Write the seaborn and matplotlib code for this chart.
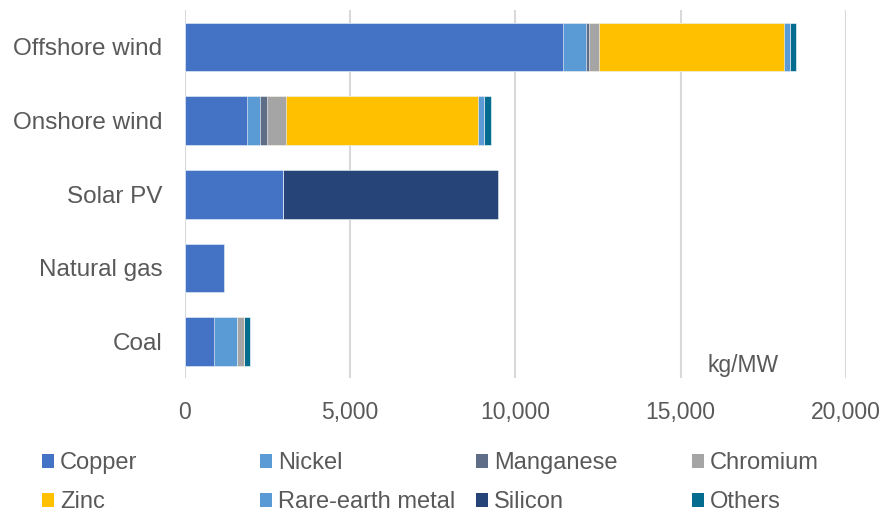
import numpy as np
import pandas as pd
import matplotlib
matplotlib.use("Agg")
import matplotlib.pyplot as plt
import seaborn as sns
from matplotlib.patches import Patch

categories = ["Offshore wind", "Onshore wind", "Solar PV", "Natural gas", "Coal"]
copper = [11440, 1890, 2980, 1180, 890]
nickel = [700, 400, 0, 0, 700]
manganese = [90, 200, 0, 0, 0]
chromium = [300, 575, 0, 0, 200]
zinc = [5590, 5800, 0, 0, 0]
rare_earth = [190, 180, 0, 0, 0]
silicon = [0, 0, 6490, 0, 0]
others = [180, 210, 0, 0, 190]

series_names = ["Copper", "Nickel", "Manganese", "Chromium", "Zinc",
                "Rare-earth metal", "Silicon", "Others"]
series_values = [copper, nickel, manganese, chromium, zinc, rare_earth, silicon, others]
colors = ["#4472C4", "#5B9BD5", "#5F6E86", "#A5A5A5", "#FFC000",
          "#5B9BD5", "#264478", "#036C8F"]
x_ticks = [0, 5000, 10000, 15000, 20000]
x_ticklabels = ["0", "5,000", "10,000", "15,000", "20,000"]

sns.set_theme(style="white")
plt.rcParams["font.family"] = ["Liberation Sans", "DejaVu Sans"]
text_color = "#595959"

fig = plt.figure(figsize=(8.82, 5.13), dpi=100)
ax = fig.add_axes([0.2092, 0.2622, 0.9592 - 0.2092, 0.9805 - 0.2622])

df = pd.DataFrame({name: vals for name, vals in zip(series_names, series_values)})
df["category"] = categories
cum = df[series_names].cumsum(axis=1)

for name, col in reversed(list(zip(series_names, colors))):
    sns.barplot(x=cum[name], y=df["category"], color=col, orient="h",
                width=0.66, ax=ax, edgecolor="white", linewidth=0.4,
                saturation=1)

ax.set_xlim(0, 20000)
ax.set_ylim(4.5, -0.5)
ax.set_xticks(x_ticks)
ax.set_xticklabels(x_ticklabels)
ax.set_xlabel("")
ax.set_ylabel("")
ax.xaxis.grid(True, color="#D9D9D9", linewidth=1.5)
ax.set_axisbelow(True)
for s in ax.spines.values():
    s.set_visible(False)
ax.tick_params(axis="x", length=0, pad=16, labelsize=16.5, labelcolor=text_color)
ax.tick_params(axis="y", length=0, pad=16, labelsize=17.5, labelcolor=text_color)

ax.text(16900, 4.33, "kg/MW", ha="center", va="center", fontsize=16.5, color=text_color)

# legend: four columns, two rows
col_x = [42, 260, 476, 692]
pairs = [(0, 4), (1, 5), (2, 6), (3, 7)]
for cx, (i, j) in zip(col_x, pairs):
    handles = [Patch(facecolor=colors[i], edgecolor="none"),
               Patch(facecolor=colors[j], edgecolor="none")]
    leg = fig.legend(handles, [series_names[i], series_names[j]],
                     loc="upper left", bbox_to_anchor=(cx / 882, 1 - 452 / 513),
                     frameon=False, fontsize=17, handlelength=0.52, handleheight=0.52,
                     handletextpad=0.25, labelspacing=0.72, borderpad=0, borderaxespad=0)
    for t in leg.get_texts():
        t.set_color(text_color)

fig.savefig("out.png", dpi=100)
